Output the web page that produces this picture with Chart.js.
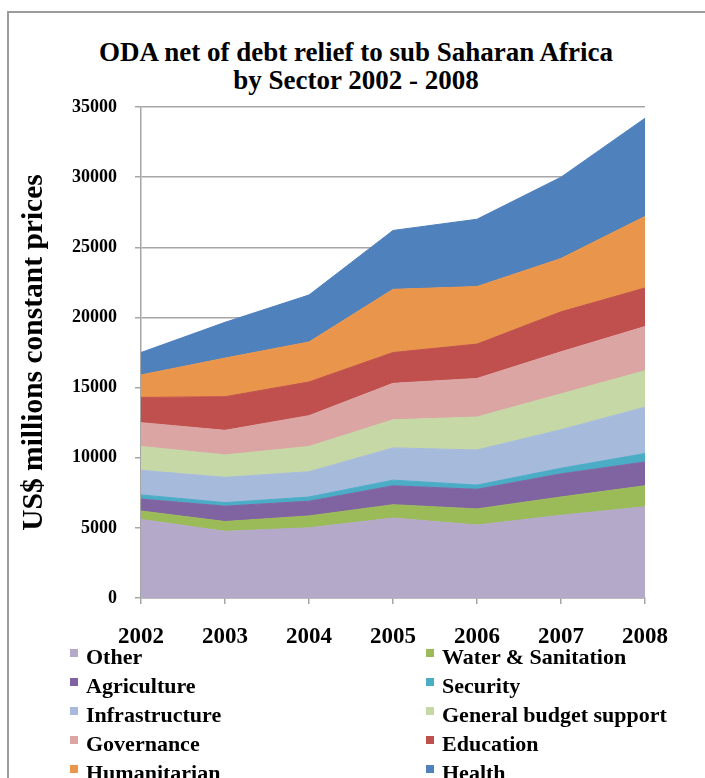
<!DOCTYPE html>
<html>
<head>
<meta charset="utf-8">
<title>ODA net of debt relief to sub Saharan Africa by Sector 2002 - 2008</title>
<script src="https://cdn.jsdelivr.net/npm/chart.js@4.4.1/dist/chart.umd.min.js"></script>
<style>
    html, body {
        margin: 0;
        padding: 0;
        width: 705px;
        height: 778px;
        overflow: hidden;
        background: #ffffff;
        font-family: 'Liberation Serif', serif;
    }
    #frame {
        position: absolute;
        left: 7px;
        top: 11px;
        width: 800px;
        height: 900px;
        border-left: 2px solid #9c9c9c;
        border-top: 2px solid #9c9c9c;
    }
    #chart-title {
        position: absolute;
        left: 0;
        top: 38px;
        width: 712px;
        text-align: center;
        font-weight: bold;
        font-size: 27px;
        line-height: 28px;
        color: #000;
    }
    #chart-wrap {
        position: absolute;
        left: 0;
        top: 0;
    }
    #legend {
        position: absolute;
        left: 70px;
        top: 642px;
        display: grid;
        grid-template-columns: 356px auto;
        grid-auto-rows: 29px;
        font-weight: bold;
        font-size: 22px;
        line-height: 29px;
        color: #000;
        white-space: nowrap;
    }
    #legend .box {
        display: inline-block;
        width: 8px;
        height: 8px;
        margin-right: 8px;
        vertical-align: 7px;
    }
</style>
</head>
<body>
<div id="frame"></div>
<div id="chart-title">ODA net of debt relief to sub Saharan Africa<br>by Sector 2002 - 2008</div>
<div id="chart-wrap"><canvas id="chart-oda" width="705" height="660"></canvas></div>
<div id="legend"></div>

<script>
const years = ['2002', '2003', '2004', '2005', '2006', '2007', '2008'];

// US$ millions, constant prices - stacked bottom to top
const other = [5600, 4750, 5000, 5700, 5200, 5900, 6500];
const waterSanitation = [600, 700, 850, 950, 1150, 1300, 1500];
const agriculture = [850, 1100, 1050, 1350, 1400, 1650, 1700];
const security = [300, 250, 300, 400, 300, 400, 600];
const infrastructure = [1750, 1800, 1800, 2300, 2500, 2750, 3300];
const budgetSupport = [1700, 1600, 1800, 2000, 2350, 2550, 2600];
const governance = [1700, 1750, 2200, 2600, 2750, 3000, 3150];
const education = [1800, 2400, 2400, 2200, 2450, 2850, 2750];
const humanitarian = [1600, 2750, 2850, 4500, 4100, 3800, 5100];
const health = [1600, 2550, 3350, 4200, 4800, 5800, 7000];

const yTicks = [0, 5000, 10000, 15000, 20000, 25000, 30000, 35000];

const sectors = [
    { label: 'Other', data: other, color: '#b4a9c9' },
    { label: 'Water & Sanitation', data: waterSanitation, color: '#9bbb59' },
    { label: 'Agriculture', data: agriculture, color: '#8064a2' },
    { label: 'Security', data: security, color: '#4bacc6' },
    { label: 'Infrastructure', data: infrastructure, color: '#a6badc' },
    { label: 'General budget support', data: budgetSupport, color: '#c5d8a6' },
    { label: 'Governance', data: governance, color: '#dba5a4' },
    { label: 'Education', data: education, color: '#c0504d' },
    { label: 'Humanitarian', data: humanitarian, color: '#e9964c' },
    { label: 'Health', data: health, color: '#4f81bd' }
];

const gridGrey = '#a6a6a6';
const serif = "'Liberation Serif', serif";

document.addEventListener('DOMContentLoaded', drawChart);

function drawChart() {
    const ctx = document.getElementById('chart-oda').getContext('2d');

    const datasets = sectors.map((s, i) => ({
        label: s.label,
        data: s.data,
        backgroundColor: s.color,
        borderColor: s.color,
        borderWidth: 1,
        pointRadius: 0,
        pointHoverRadius: 0,
        tension: 0,
        fill: i === 0 ? 'origin' : '-1'
    }));

    const chart = new Chart(ctx, {
        type: 'line',
        data: {
            labels: years,
            datasets: datasets
        },
        options: {
            responsive: false,
            animation: false,
            layout: {
                padding: { top: 107, left: 0, right: 60, bottom: 0 }
            },
            scales: {
                x: {
                    offset: false,
                    grid: {
                        display: true,
                        drawOnChartArea: false,
                        drawTicks: true,
                        tickLength: 6,
                        color: gridGrey,
                        lineWidth: 1.5
                    },
                    border: { display: true, color: gridGrey, width: 1.5 },
                    ticks: {
                        color: '#000',
                        padding: 19,
                        maxRotation: 0,
                        font: { family: serif, size: 23, weight: 'bold' }
                    },
                    afterFit: scale => { scale.height = 62; }
                },
                y: {
                    stacked: true,
                    min: 0,
                    max: 35000,
                    afterBuildTicks: scale => {
                        scale.ticks = yTicks.map(v => ({ value: v }));
                    },
                    grid: {
                        color: gridGrey,
                        lineWidth: 1.5,
                        tickLength: 6
                    },
                    border: { display: true, color: gridGrey, width: 1.5 },
                    ticks: {
                        color: '#000',
                        padding: 18,
                        font: { family: serif, size: 18, weight: 'bold' },
                        callback: value => String(value)
                    },
                    title: {
                        display: true,
                        text: 'US$ millions constant prices',
                        color: '#000',
                        padding: { top: 17, bottom: 0 },
                        font: { family: serif, size: 29.5, weight: 'bold' }
                    },
                    afterFit: scale => { scale.width = 141; }
                }
            },
            plugins: {
                legend: { display: false },
                tooltip: { enabled: false },
                title: { display: false }
            }
        }
    });

    buildLegend(chart);
}

// two-column legend
function buildLegend(chart) {
    const legendEl = document.getElementById('legend');
    chart.data.datasets.forEach(ds => {
        const item = document.createElement('div');
        const box = document.createElement('span');
        box.className = 'box';
        box.style.background = ds.backgroundColor;
        const text = document.createElement('span');
        text.textContent = ds.label;
        item.appendChild(box);
        item.appendChild(text);
        legendEl.appendChild(item);
    });
}
</script>
</body>
</html>
